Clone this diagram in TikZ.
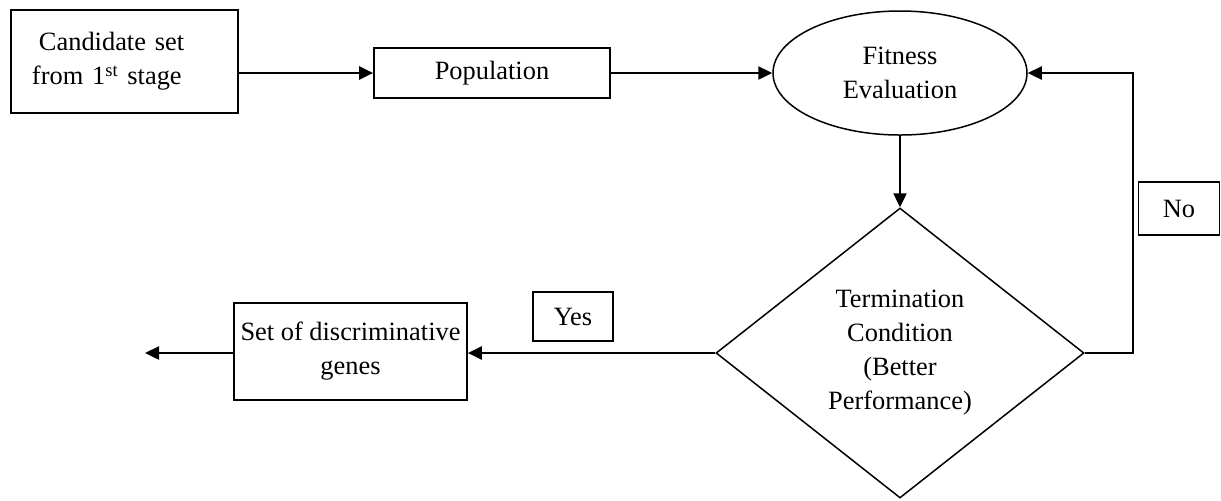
\documentclass[tikz,border=0pt]{standalone}
\usepackage{fontspec}
\setmainfont{Liberation Serif}
\usetikzlibrary{shapes.geometric,arrows.meta}

\tikzset{
  every node/.style={font=\fontsize{13.2}{17}\selectfont},
  box/.style={draw, rectangle, line width=0.85pt, inner sep=0pt},
  flow/.style={line width=1.2pt, -{Triangle[length=7pt,width=6.5pt]}},
}

\begin{document}
\begin{tikzpicture}[x=0.5pt, y=-0.5pt]
  \useasboundingbox (0,0) rectangle (1221,500);

  % process boxes
  \node[box, minimum width=113.5pt, minimum height=51.5pt,
        text width=92.5pt, align=left] (cand) at (124.5,61.5)
        {\hspace{3.5pt}Candidate set\\from 1\textsuperscript{st} stage};
  \node[box, minimum width=118pt, minimum height=25pt] (pop) at (492,73) {Population};
  \node[box, minimum width=116.5pt, minimum height=48.5pt, align=center] (disc)
        at (350.5,351.5) {Set of discriminative\\genes};

  % evaluation and decision
  \node[draw, ellipse, line width=0.75pt, inner sep=0pt, minimum width=127pt,
        minimum height=62pt, align=center] (fit) at (900,73) {Fitness\\Evaluation};
  \node[draw, diamond, line width=0.75pt, inner sep=0pt, aspect=1.27,
        minimum width=184pt, minimum height=145pt, align=center] (dia)
        at (900,353) {Termination\\Condition\\(Better\\Performance)};

  % branch labels
  \node[box, minimum width=40pt, minimum height=24.5pt] (yes) at (573,316.5) {Yes};
  \node[box, minimum width=40.5pt, minimum height=26.5pt] (no) at (1179,208.5) {No};

  \coordinate (out) at (145,353);

  % connectors
  \draw[flow] (cand.east |- pop.west) -- (pop.west);
  \draw[flow] (pop.east) -- (fit.west);
  \draw[flow] (fit.south) -- (dia.north);
  \draw[flow] (dia.east) -- ++(48,0) |- (fit.east);
  \draw[flow] (dia.west) -- (dia.west -| disc.east);
  \draw[flow] (disc.west |- out) -- (out);
\end{tikzpicture}
\end{document}
